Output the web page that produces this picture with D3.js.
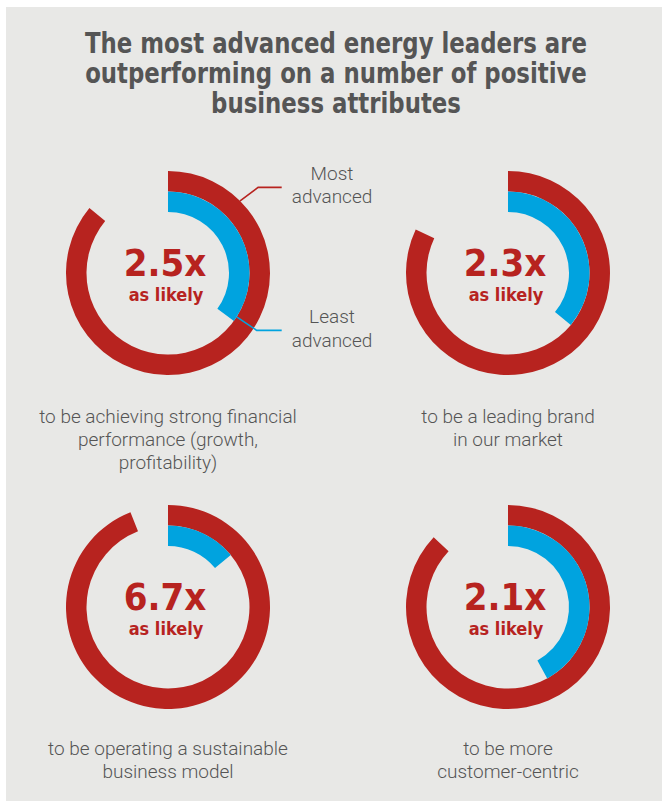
<!DOCTYPE html>
<html>
<head>
<meta charset="utf-8">
<script src="https://cdn.jsdelivr.net/npm/d3@7"></script>
<style>
  html, body { margin: 0; padding: 0; background: #ffffff; }
  svg { display: block; }
</style>
</head>
<body>
<div id="chart"></div>
<script>
// Share of each group reporting the attribute (%)
const attributes = [
  ["to be achieving strong financial", "performance (growth,", "profitability)"],
  ["to be a leading brand", "in our market"],
  ["to be operating a sustainable", "business model"],
  ["to be more", "customer-centric"]
];
const mostAdvanced = [86, 82, 94, 87];
const leastAdvanced = [35, 36, 14, 42];
const titleLines = [
  "The most advanced energy leaders are",
  "outperforming on a number of positive",
  "business attributes"
];
const seriesNames = [["Most", "advanced"], ["Least", "advanced"]];

const W = 662, H = 801;
const RED = "#b7231f", BLUE = "#00a3df", TEXT = "#555555", BG = "#e8e8e6";
const BOLD = "'DejaVu Sans Condensed', 'DejaVu Sans', sans-serif";
const LIGHT = "Roboto, 'Open Sans', sans-serif";

const svg = d3.select("#chart").append("svg")
  .attr("width", W).attr("height", H);

svg.append("rect").attr("x", 6).attr("y", 7)
  .attr("width", W - 6).attr("height", H - 7).attr("fill", BG);

// Squeeze a line of text horizontally by a factor
function squeeze(sel, k) {
  sel.each(function () {
    const w = this.getComputedTextLength();
    d3.select(this).attr("textLength", w * k).attr("lengthAdjust", "spacingAndGlyphs");
  });
}

// Title
const title = svg.append("g").selectAll("text").data(titleLines).join("text")
  .attr("x", 336).attr("y", (d, i) => 53 + i * 30)
  .attr("text-anchor", "middle")
  .attr("font-family", BOLD).attr("font-weight", "bold").attr("font-size", 28)
  .attr("fill", TEXT).text(d => d);
const tW = title.node().getComputedTextLength();
squeeze(title, 502 / tW);

// Ring layout
const colX = d3.scalePoint().domain([0, 1]).range([168, 508]);
const rowY = d3.scalePoint().domain([0, 1]).range([273, 607]);
const angle = d3.scaleLinear().domain([0, 100]).range([0, 2 * Math.PI]);
const rOuter = 102, rMid = 81.5, rInner = 61;

const redArc = d3.arc().innerRadius(rMid).outerRadius(rOuter).startAngle(0);
const blueArc = d3.arc().innerRadius(rInner).outerRadius(rMid).startAngle(0);

const cells = svg.selectAll("g.cell").data(mostAdvanced.map((m, i) => ({
  i, most: m, least: leastAdvanced[i], caption: attributes[i]
}))).join("g").attr("class", "cell")
  .attr("transform", d => `translate(${colX(d.i % 2)},${rowY(Math.floor(d.i / 2))})`);

cells.append("path").attr("fill", RED)
  .attr("d", d => redArc({ endAngle: angle(d.most) }));
cells.append("path").attr("fill", BLUE)
  .attr("d", d => blueArc({ endAngle: angle(d.least) }));

cells.append("text")
  .attr("x", -3).attr("y", 3).attr("text-anchor", "middle")
  .attr("font-family", BOLD).attr("font-weight", "bold").attr("font-size", 38)
  .attr("fill", RED).text(d => (d.most / d.least).toFixed(1) + "x");
cells.append("text")
  .attr("x", -2).attr("y", 28).attr("text-anchor", "middle")
  .attr("font-family", BOLD).attr("font-weight", "bold").attr("font-size", 18)
  .attr("fill", RED).text("as likely");

// Captions under each ring
cells.each(function (d) {
  const row = Math.floor(d.i / 2);
  const y0 = row === 0 ? 150 : 148;
  d3.select(this).selectAll("text.cap").data(d.caption).join("text")
    .attr("class", "cap")
    .attr("y", (t, j) => y0 + j * 23)
    .attr("text-anchor", "middle")
    .attr("font-family", LIGHT).attr("font-weight", 300).attr("font-size", 19)
    .attr("fill", TEXT).text(t => t);
});

// Series callouts on the first ring
const c0 = cells.filter(d => d.i === 0);
const d0 = c0.datum();
function polar(a, r) { return [r * Math.sin(a), -r * Math.cos(a)]; }
const lineEndX = 281.7 - colX(0);
const pRed = polar(angle(12.5), rOuter);
const pBlue = polar(angle(d0.least) - 0.06, rMid);
c0.append("polyline").attr("fill", "none").attr("stroke", RED).attr("stroke-width", 1.6)
  .attr("points", [pRed, [pRed[0] + 18, pRed[1] - 13.5], [lineEndX, pRed[1] - 13.5]].join(" "));
c0.append("polyline").attr("fill", "none").attr("stroke", BLUE).attr("stroke-width", 1.6)
  .attr("points", [pBlue, [pBlue[0] + 20, pBlue[1] + 13.5], [lineEndX, pBlue[1] + 13.5]].join(" "));

const legendY = [[180 - 273, 203 - 273], [323 - 273, 347 - 273]];
seriesNames.forEach((lines, s) => {
  c0.selectAll(null).data(lines).join("text")
    .attr("x", 332 - colX(0)).attr("y", (t, j) => legendY[s][j])
    .attr("text-anchor", "middle")
    .attr("font-family", LIGHT).attr("font-weight", 300).attr("font-size", 19)
    .attr("fill", TEXT).text(t => t);
});
</script>
</body>
</html>
